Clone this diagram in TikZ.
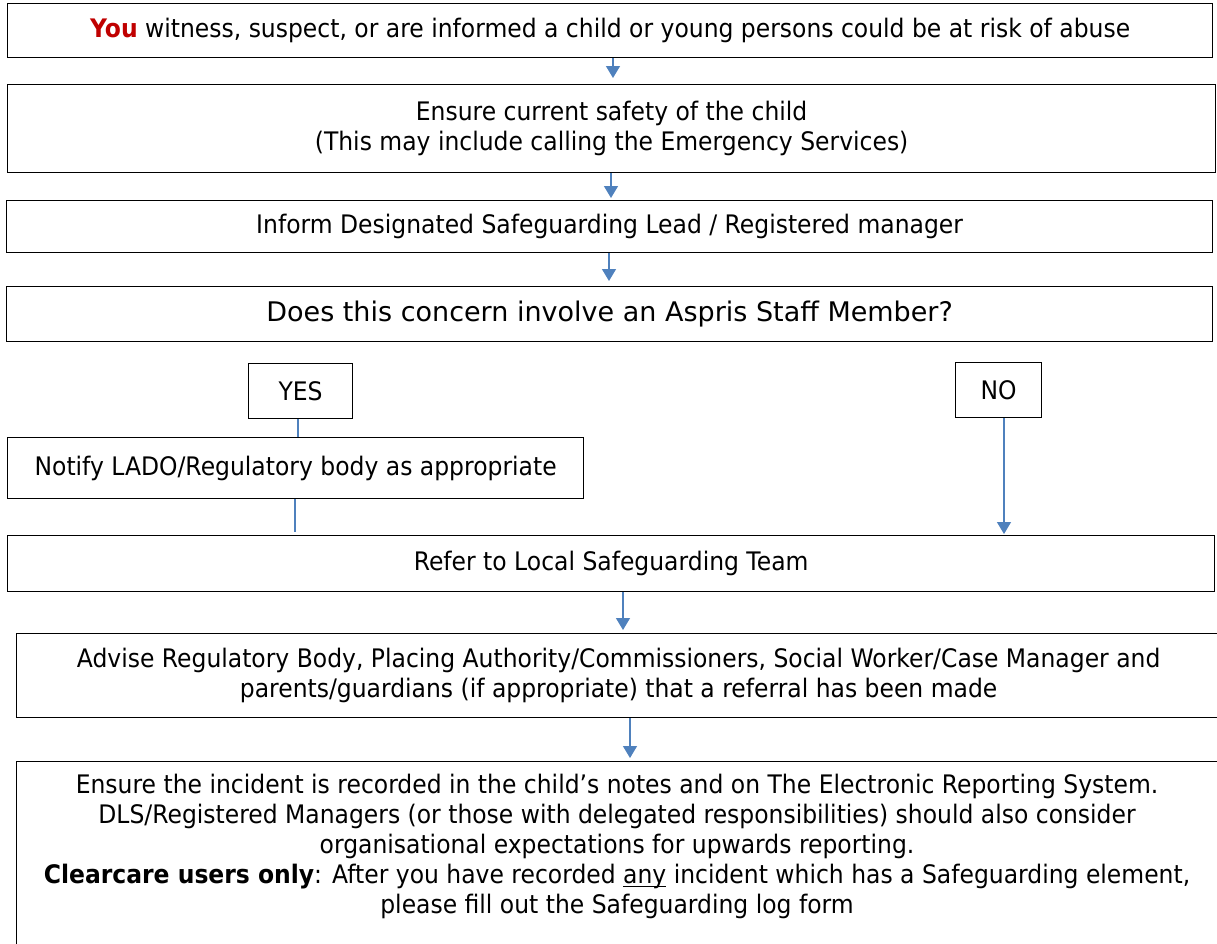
\documentclass[tikz,border=0pt]{standalone}
\usepackage{fontspec}
\setmainfont[FakeStretch=0.92]{DejaVu Sans}
\newfontfamily\widefont{DejaVu Sans}
\usetikzlibrary{arrows.meta}
\definecolor{arrblue}{HTML}{4F81BD}
\definecolor{youred}{HTML}{C00000}
\newcommand\myul[1]{\setbox0\hbox{#1}\rlap{\rule[-3.5pt]{\wd0}{1.1pt}}#1}
\begin{document}
\begin{tikzpicture}[x=1pt,y=-1pt,
  box/.style={draw=black, line width=1.2pt, rectangle, anchor=north west, inner sep=0pt, align=center, font=\fontsize{25.5}{30}\selectfont},
  arr/.style={draw=arrblue, line width=1.3pt, -{Triangle[width=14pt,length=12pt]}},
  link/.style={draw=arrblue, line width=1.3pt},
  txt/.style={inner sep=0pt, align=center, font=\fontsize{25.5}{30}\selectfont}]
\useasboundingbox (0,0) rectangle (1217,943);
\fill[white] (0,0) rectangle (1217,943);

\node[box, minimum width=1205, minimum height=54] (b1) at (7,3)
  {\textcolor{youred}{\textbf{You}} witness, suspect, or are informed a child or young persons could be at risk of abuse};
\node[box, minimum width=1208, minimum height=88] (b2) at (7,84)
  {Ensure current safety of the child\\(This may include calling the Emergency Services)};
\node[box, minimum width=1206, minimum height=52] (b3) at (6,200)
  {Inform Designated Safeguarding Lead / Registered manager};
\node[box, minimum width=1206, minimum height=55, font=\widefont\fontsize{27}{30}\selectfont] (b4) at (6,286)
  {Does this concern involve an Aspris Staff Member?};
\node[box, minimum width=104, minimum height=55] (yes) at (248,363) {YES};
\node[box, minimum width=86, minimum height=55] (no) at (955,362) {NO};
\node[box, minimum width=576, minimum height=61] (lado) at (7,437)
  {Notify LADO/Regulatory body as appropriate};
\node[box, minimum width=1207, minimum height=56] (refer) at (7,535)
  {Refer to Local Safeguarding Team};
\node[box, minimum width=1204, minimum height=84] (advise) at (16,633)
  {Advise Regulatory Body, Placing Authority/Commissioners, Social Worker/Case Manager and\\parents/guardians (if appropriate) that a referral has been made};
\node[box, minimum width=1204, minimum height=200] (rec) at (16,761) {};
\node[txt, anchor=north] (rectext) at (617,774)
  {Ensure the incident is recorded in the child’s notes and on The Electronic Reporting System.\\
   DLS/Registered Managers (or those with delegated responsibilities) should also consider\\
   organisational expectations for upwards reporting.\\
   \textbf{Clearcare users only}: After you have recorded \myul{any} incident which has a Safeguarding element,\\
   please fill out the Safeguarding log form};

\draw[arr, shorten >=6pt] (613,0 |- b1.south) -- (613,0 |- b2.north);
\draw[arr, shorten >=2pt] (611,0 |- b2.south) -- (611,0 |- b3.north);
\draw[arr, shorten >=5pt] (609,0 |- b3.south) -- (609,0 |- b4.north);
\draw[link] (298,0 |- yes.south) -- (298,0 |- lado.north);
\draw[link, shorten >=3pt] (295,0 |- lado.south) -- (295,0 |- refer.north);
\draw[arr, shorten >=1pt] (1004,0 |- no.south) -- (1004,0 |- refer.north);
\draw[arr, shorten >=3pt] (623,0 |- refer.south) -- (623,0 |- advise.north);
\draw[arr, shorten >=3pt] (630,0 |- advise.south) -- (630,0 |- rec.north);
\end{tikzpicture}
\end{document}
